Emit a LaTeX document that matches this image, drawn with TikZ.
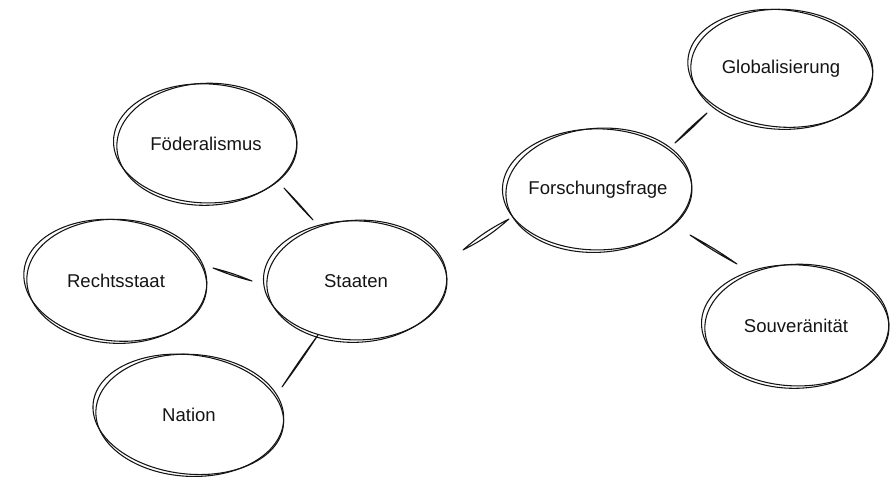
\documentclass[tikz,border=0pt]{standalone}
\usepackage{fontspec}
\setmainfont{Liberation Sans}
\usetikzlibrary{calc}
\definecolor{ink}{HTML}{141414}
\tikzset{
  sk/.style={draw=ink, line width=0.8pt, line cap=round, line join=round},
  lbl/.style={inner sep=0pt, text=ink, font=\fontsize{13.9}{16}\selectfont},
}
\newcommand\sketchel[4]{%
  \draw[sk, rotate around={#4:(#1)}] ($(#1)+(0.8,0.3)$) ellipse[x radius=#2, y radius=#3];
  \draw[sk, rotate around={#4-4:(#1)}] ($(#1)+(-0.8,-0.6)$) ellipse[x radius=#2+1.3pt, y radius=#3-1.1pt];
}
\newcommand\skline[3]{%
  \draw[sk] #1 to[bend left=#3] #2 to[bend left=#3] #1;
}
\begin{document}
\begin{tikzpicture}[x=0.75pt, y=-0.75pt]
\useasboundingbox (0,0) rectangle (890,478);

\node[lbl] (foed)    at (206,144) {Föderalismus};
\node[lbl] (rechts)  at (116,281) {Rechtsstaat};
\node[lbl] (staaten) at (356,281) {Staaten};
\node[lbl] (nation)  at (189,415) {Nation};
\node[lbl] (forsch)  at (598,190) {Forschungsfrage};
\node[lbl] (glob)    at (781,69)  {Globalisierung};
\node[lbl] (souv)    at (796,326) {Souveränität};

\sketchel{foed}{67.5pt}{45.75pt}{2}
\sketchel{rechts}{67.5pt}{46.5pt}{-2}
\sketchel{staaten}{67.5pt}{45.75pt}{3}
\sketchel{nation}{70.5pt}{45.75pt}{-3}
\sketchel{forsch}{69.75pt}{46.5pt}{4}
\sketchel{glob}{68.25pt}{45pt}{-2}
\sketchel{souv}{69pt}{46.5pt}{2}

\skline{($(foed)+(78,44)$)}{($(staaten)+(-43,-61)$)}{2}
\skline{($(rechts)+(97,-13)$)}{($(staaten)+(-104,0)$)}{4}
\skline{($(staaten)+(-38,54)$)}{($(nation)+(93,-28)$)}{1.5}
\skline{($(staaten)+(107,-31)$)}{($(forsch)+(-89,29)$)}{7}
\skline{($(forsch)+(77,-47)$)}{($(glob)+(-74,44)$)}{3}
\skline{($(forsch)+(92,45)$)}{($(souv)+(-59,-62)$)}{3}
\end{tikzpicture}
\end{document}
